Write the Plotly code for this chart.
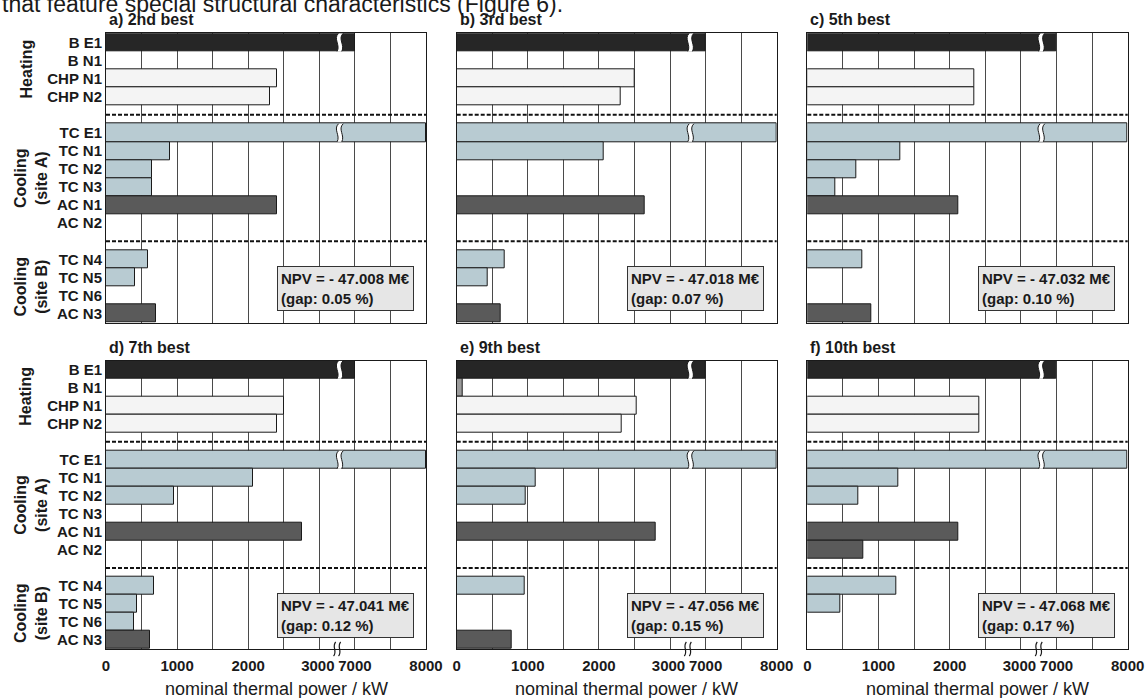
import plotly.graph_objects as go

# ---------------- data ----------------
categories = ["B E1", "B N1", "CHP N1", "CHP N2",
              "TC E1", "TC N1", "TC N2", "TC N3", "AC N1", "AC N2",
              "TC N4", "TC N5", "TC N6", "AC N3"]
group_names = ["Heating", "Cooling<br>(site A)", "Cooling<br>(site B)"]
group_sizes = [4, 6, 4]

panel_titles = ["a) 2nd best", "b) 3rd best", "c) 5th best",
                "d) 7th best", "e) 9th best", "f) 10th best"]
npv_meur = [-47.008, -47.018, -47.032, -47.041, -47.056, -47.068]
gap_pct = [0.05, 0.07, 0.10, 0.12, 0.15, 0.17]

# nominal thermal power in kW, same order as categories
power_a = [7000, 0, 2400, 2300, 8000, 900, 640, 640, 2400, 0, 590, 410, 0, 700]
power_b = [7000, 0, 2510, 2300, 8000, 2065, 0, 0, 2650, 0, 670, 435, 0, 625]
power_c = [7000, 0, 2350, 2350, 8000, 1305, 695, 400, 2120, 0, 770, 0, 0, 900]
power_d = [7000, 0, 2510, 2405, 8000, 2065, 960, 0, 2755, 0, 670, 435, 395, 625]
power_e = [7000, 90, 2535, 2315, 8000, 1115, 965, 0, 2795, 0, 950, 0, 0, 775]
power_f = [7000, 0, 2415, 2415, 8000, 1275, 715, 0, 2125, 790, 1250, 465, 0, 0]

tick_kw = [0, 1000, 2000, 3000, 7000, 8000]
tick_labels = ["0", "1000", "2000", "3000\u2009", "7000", "8000"]
minor_kw = [500, 1500, 2500, 7500]
break_lo, break_hi = 3000, 7000
x_title = "nominal thermal power / kW"
intro_text = "that feature special structural characteristics (Figure 6)."

# ---------------- styling ----------------
W, H = 1147, 698
FONT = "Liberation Sans, Arial, Helvetica, sans-serif"
INK = "#1a1a1a"
GRID = "#4a4a4a"
col_px = [(106.0, 426.0), (456.7, 776.7), (807.3, 1127.7)]
row_px = [(33.3, 322.7), (360.7, 649.0)]
UNIT = 500.0


def color_of(cat):
    if cat == "B E1":
        return "#262626"
    if cat.startswith("B "):
        return "#9b9b9b"
    if cat.startswith("CHP"):
        return "#f4f4f4"
    if cat.startswith("TC"):
        return "#b8cbd2"
    return "#5a5a5a"


def ax(v):
    # broken axis: 0..3000 linear, gap of one unit, then 7000..8000
    if v <= break_lo:
        return v / UNIT
    return break_lo / UNIT + 1 + (v - break_hi) / UNIT


# row positions with one empty row between groups
pos, gap_rows, group_centers = [], [], []
p = 0
for gsize in group_sizes:
    start = p
    for _ in range(gsize):
        pos.append(p)
        p += 1
    group_centers.append((start + p - 1) / 2)
    gap_rows.append(p)
    p += 1
gap_rows = gap_rows[:-1]
y_max = pos[-1]
x_max = ax(max(tick_kw))
x_break = (break_lo / UNIT + ax(break_hi)) / 2

panels = [power_a, power_b, power_c, power_d, power_e, power_f]

fig = go.Figure()
shapes, annotations = [], []

for i, vals in enumerate(panels):
    r, c = divmod(i, 3)
    n = i + 1
    xa = "x" if n == 1 else f"x{n}"
    ya = "y" if n == 1 else f"y{n}"
    xkey = "xaxis" if n == 1 else f"xaxis{n}"
    ykey = "yaxis" if n == 1 else f"yaxis{n}"

    xs, ys, cs = [], [], []
    for cat, v, yp in zip(categories, vals, pos):
        if v > 0:
            xs.append(ax(min(v, max(tick_kw))))
            ys.append(yp)
            cs.append(color_of(cat))
    fig.add_trace(go.Bar(
        x=xs, y=ys, base=0, orientation="h", width=1,
        marker=dict(color=cs, line=dict(color=INK, width=1)),
        xaxis=xa, yaxis=ya, showlegend=False, hoverinfo="skip"))

    x0, x1 = col_px[c]
    t0, t1 = row_px[r]
    bottom = (r == 1)
    fig.layout[xkey] = dict(
        domain=[x0 / W, x1 / W], anchor=ya, range=[0, x_max],
        tickvals=[ax(v) for v in tick_kw], ticktext=tick_labels,
        showticklabels=bottom, ticks="", tickangle=0, automargin=False,
        ticklabelstandoff=3,
        tickfont=dict(family=FONT, size=15, color=INK, weight="bold"),
        showgrid=True, gridcolor=GRID, gridwidth=1,
        minor=dict(tickvals=[ax(v) for v in minor_kw], showgrid=True,
                   gridcolor=GRID, gridwidth=1, ticks=""),
        showline=True, linecolor=INK, linewidth=1, mirror=True,
        zeroline=False, fixedrange=True)
    fig.layout[ykey] = dict(
        domain=[1 - t1 / H, 1 - t0 / H], anchor=xa,
        range=[y_max + 0.5, -0.5], automargin=False,
        tickvals=pos, ticktext=categories, showticklabels=(c == 0),
        ticks="", tickfont=dict(family=FONT, size=15, color=INK, weight="bold"),
        showgrid=False, showline=True, linecolor=INK, linewidth=1,
        mirror=True, zeroline=False, fixedrange=True)

    # dashed group separators
    for g in gap_rows:
        shapes.append(dict(type="line", xref=f"{xa} domain", yref=ya,
                           x0=0, x1=1, y0=g, y1=g,
                           line=dict(color="#111111", width=2, dash="4px,2px")))

    # break marks on bars that cross the axis break
    for v, yp in zip(vals, pos):
        if v >= break_hi:
            yt, yb = yp - 0.5, yp + 0.5
            cx = x_break + 0.04
            w = 0.13
            left = (f"M {cx:.3f},{yt} C {cx-0.16:.3f},{yt+0.3} "
                    f"{cx+0.06:.3f},{yb-0.35} {cx-0.04:.3f},{yb}")
            right = (f"M {cx+w:.3f},{yt} C {cx+w-0.16:.3f},{yt+0.3} "
                     f"{cx+w+0.06:.3f},{yb-0.35} {cx+w-0.04:.3f},{yb}")
            fill = (f"M {cx:.3f},{yt} C {cx-0.16:.3f},{yt+0.3} "
                    f"{cx+0.06:.3f},{yb-0.35} {cx-0.04:.3f},{yb} "
                    f"L {cx+w-0.04:.3f},{yb} C {cx+w+0.06:.3f},{yb-0.35} "
                    f"{cx+w-0.16:.3f},{yt+0.3} {cx+w:.3f},{yt} Z")
            shapes.append(dict(type="path", xref=xa, yref=ya, path=fill,
                               fillcolor="white", line=dict(width=0)))
            for pth in (left, right):
                shapes.append(dict(type="path", xref=xa, yref=ya, path=pth,
                                   fillcolor="rgba(0,0,0,0)",
                                   line=dict(color=INK, width=1)))

    # panel title
    annotations.append(dict(
        text=f"<b>{panel_titles[i]}</b>", xref="paper", yref="paper",
        x=(x0 + 1) / W, y=1 - (t0 - 13.5) / H, xanchor="left", yanchor="middle",
        showarrow=False, font=dict(family=FONT, size=16, color=INK)))

    # NPV box
    annotations.append(dict(
        text=(f"<b>NPV = - {abs(npv_meur[i]):.3f} M€</b><br>"
              f"<b>(gap: {gap_pct[i]:.2f} %)</b>"),
        xref=xa, yref=ya, x=4.8, y=12.37, xanchor="left", yanchor="top",
        align="left", showarrow=False, bgcolor="#e6e6e6", bordercolor="#333333",
        borderwidth=1, borderpad=3,
        font=dict(family=FONT, size=15, color=INK)))

    if c == 0:
        for gname, gc, gx in zip(group_names, group_centers, [26, 31, 31]):
            annotations.append(dict(
                text=f"<b>{gname}</b>", xref="paper", yref=ya,
                x=gx / W, y=gc, xanchor="center", yanchor="middle",
                textangle=-90, showarrow=False,
                font=dict(family=FONT, size=16, color=INK)))

    if bottom:
        # axis-break marker (two small wavy strokes) on the x axis line
        ytop, ybot = 1 - (t1 - 7) / H, 1 - (t1 + 7) / H
        ya1, ya2 = 1 - (t1 - 2.5) / H, 1 - (t1 + 2.5) / H
        for dx in (-0.07, 0.07):
            sx = x_break + dx
            shapes.append(dict(
                type="path", xref=xa, yref="paper",
                path=(f"M {sx+0.03:.3f},{ytop:.5f} C {sx-0.09:.3f},{ya1:.5f} "
                      f"{sx+0.09:.3f},{ya2:.5f} {sx-0.03:.3f},{ybot:.5f}"),
                fillcolor="rgba(0,0,0,0)", line=dict(color=INK, width=1.2)))
        annotations.append(dict(
            text=x_title, xref="paper", yref="paper",
            x=((x0 + x1) / 2 + 10) / W, y=1 - 689 / H,
            xanchor="center", yanchor="middle", showarrow=False,
            font=dict(family=FONT, size=18, color=INK)))

annotations.append(dict(
    text=intro_text, xref="paper", yref="paper", x=-0.5 / W, y=1 - 3.5 / H,
    xanchor="left", yanchor="middle", showarrow=False,
    font=dict(family=FONT, size=23, color=INK)))

fig.update_layout(
    width=W, height=H, margin=dict(l=0, r=0, t=0, b=0, autoexpand=False),
    paper_bgcolor="white", plot_bgcolor="white",
    bargap=0, shapes=shapes, annotations=annotations,
    font=dict(family=FONT, color=INK))

fig.write_html(
    "out.html", config={"displayModeBar": False},
    post_script="document.body.style.margin='0';document.body.style.padding='0';")
